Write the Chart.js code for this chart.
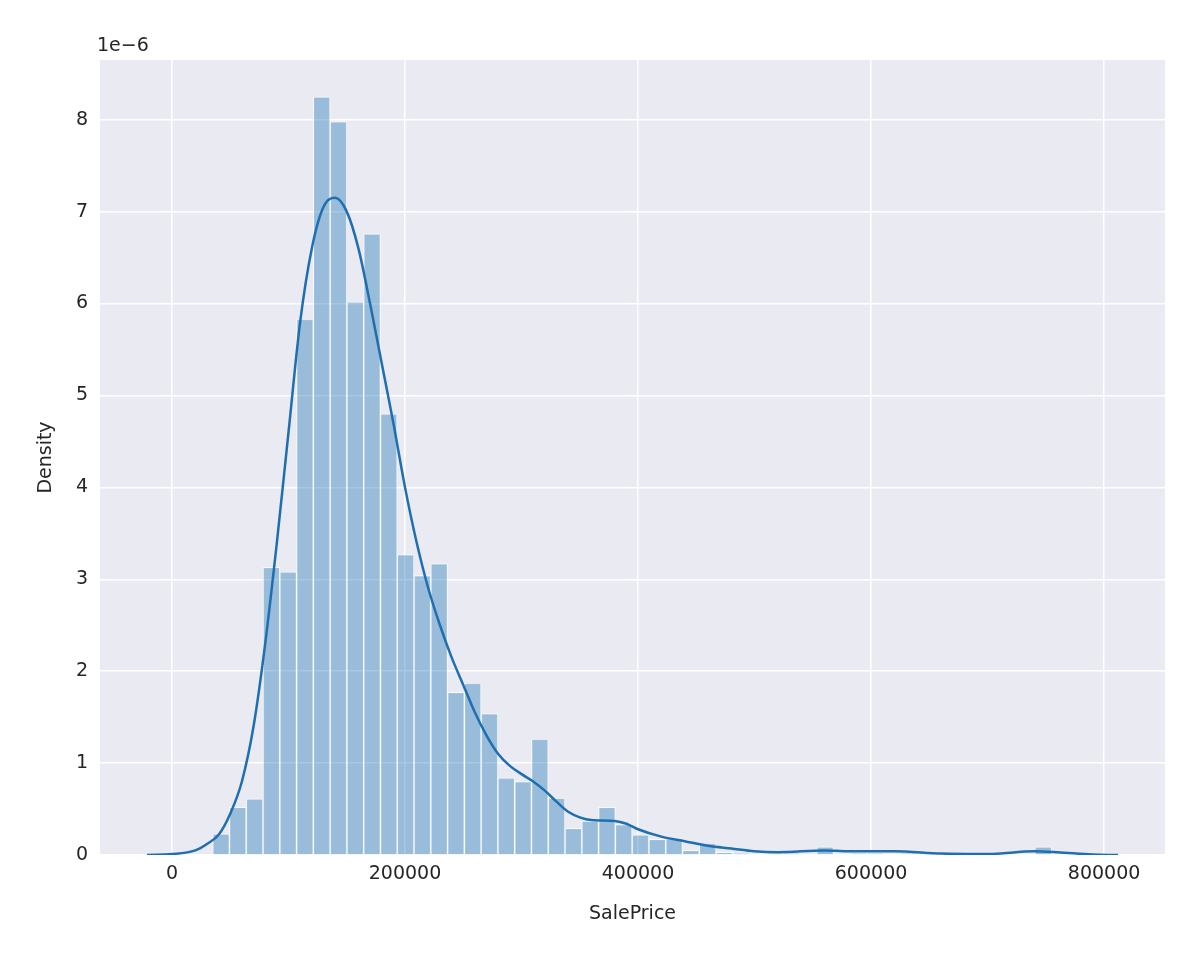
<!DOCTYPE html>
<html lang="en">
<head>
    <meta charset="UTF-8">
    <title>SalePrice distribution</title>
    <script src="https://cdn.jsdelivr.net/npm/chart.js"></script>
    <style>
        body { margin: 0; background: #ffffff; }
        #wrap { width: 1200px; height: 961px; }
    </style>
</head>
<body>
<div id="wrap"><canvas id="distChart" width="1200" height="961"></canvas></div>
<script>
    // histogram: 50 bins from min to max sale price, density in units of 1e-6
    const priceMin = 34900;
    const priceMax = 755000;
    const binDensity = [0.23, 0.52, 0.61, 3.13, 3.08, 5.83, 8.25, 7.98, 6.02, 6.76,
                        4.80, 3.27, 3.04, 3.17, 1.77, 1.87, 1.54, 0.84, 0.80, 1.26,
                        0.62, 0.29, 0.37, 0.52, 0.33, 0.22, 0.17, 0.18, 0.05, 0.13,
                        0.03, 0.02, 0.00, 0.02, 0.02, 0.00, 0.09, 0.00, 0.02, 0.02,
                        0.00, 0.02, 0.00, 0.00, 0.00, 0.00, 0.00, 0.00, 0.00, 0.09];
    // kde curve
    const kdeX = [-21500, 0, 20000, 30000, 40000, 50000, 60000, 70000, 80000, 90000,
                  100000, 110000, 120000, 130000, 140000, 150000, 160000, 170000, 180000, 190000,
                  200000, 210000, 220000, 230000, 240000, 250000, 260000, 270000, 280000, 290000,
                  300000, 310000, 320000, 330000, 340000, 350000, 360000, 380000, 390000, 400000,
                  420000, 440000, 460000, 480000, 500000, 520000, 560000, 580000, 620000, 660000,
                  700000, 740000, 760000, 790000, 812000];
    const kdeY = [0, 0.01, 0.05, 0.12, 0.22, 0.45, 0.8, 1.4, 2.3, 3.4,
                  4.6, 5.8, 6.6, 7.05, 7.15, 7.0, 6.6, 6.0, 5.35, 4.7,
                  4.0, 3.4, 2.9, 2.5, 2.15, 1.85, 1.55, 1.3, 1.1, 0.97,
                  0.88, 0.8, 0.7, 0.58, 0.47, 0.41, 0.38, 0.37, 0.34, 0.28,
                  0.2, 0.15, 0.1, 0.07, 0.04, 0.03, 0.05, 0.04, 0.04, 0.015,
                  0.01, 0.04, 0.03, 0.005, 0];
    const xTicks = [0, 200000, 400000, 600000, 800000];
    const yTicks = [0, 1, 2, 3, 4, 5, 6, 7, 8];

    const binWidth = (priceMax - priceMin) / binDensity.length;
    const histData = binDensity.map((d, i) => ({ x: priceMin + binWidth * (i + 0.5), y: d }));
    const kdeData = kdeX.map((x, i) => ({ x: x, y: kdeY[i] }));

    const font = { family: 'DejaVu Sans', size: 19 };

    const seabornBg = {
        id: 'seabornBg',
        beforeDraw(chart) {
            const { ctx, chartArea: a } = chart;
            ctx.save();
            ctx.fillStyle = '#eaeaf2';
            ctx.fillRect(a.left, a.top, a.right - a.left, a.bottom - a.top);
            ctx.restore();
        },
        afterDraw(chart) {
            const { ctx, chartArea: a } = chart;
            ctx.save();
            ctx.fillStyle = '#262626';
            ctx.font = '19px "DejaVu Sans"';
            ctx.textBaseline = 'bottom';
            ctx.fillText('1e\u22126', a.left - 3, a.top - 4);
            ctx.restore();
        }
    };

    new Chart(document.getElementById('distChart'), {
        type: 'bar',
        data: {
            datasets: [{
                type: 'line',
                data: kdeData,
                borderColor: '#1f6fb0',
                borderWidth: 2.5,
                pointRadius: 0,
                tension: 0.4,
                cubicInterpolationMode: 'monotone',
                order: 0
            }, {
                data: histData,
                backgroundColor: 'rgba(31,119,180,0.4)',
                borderColor: 'rgba(255,255,255,0.7)',
                borderWidth: 1,
                barPercentage: 1,
                categoryPercentage: 1,
                order: 1
            }]
        },
        plugins: [seabornBg],
        options: {
            responsive: false,
            animation: false,
            layout: { padding: { top: 60, right: 35, left: 35, bottom: 36 } },
            plugins: { legend: { display: false }, tooltip: { enabled: false } },
            scales: {
                x: {
                    type: 'linear',
                    offset: false,
                    min: -61800,
                    max: 852300,
                    afterBuildTicks(s) { s.ticks = xTicks.map(v => ({ value: v })); },
                    afterFit(s) { s.height = 70; },
                    ticks: { font: font, color: '#262626', padding: 8, callback: v => String(v) },
                    grid: { color: '#ffffff', lineWidth: 1.5, drawTicks: false, offset: false },
                    border: { display: false },
                    title: { display: true, text: 'SalePrice', font: font, color: '#262626', padding: 0 }
                },
                y: {
                    min: 0,
                    max: 8.65,
                    afterBuildTicks(s) { s.ticks = yTicks.map(v => ({ value: v })); },
                    afterFit(s) { s.width = 65; },
                    ticks: { font: font, color: '#262626', padding: 12 },
                    grid: { color: '#ffffff', lineWidth: 1.5, drawTicks: false },
                    border: { display: false },
                    title: { display: true, text: 'Density', font: font, color: '#262626', padding: 0 }
                }
            }
        }
    });
</script>
</body>
</html>
